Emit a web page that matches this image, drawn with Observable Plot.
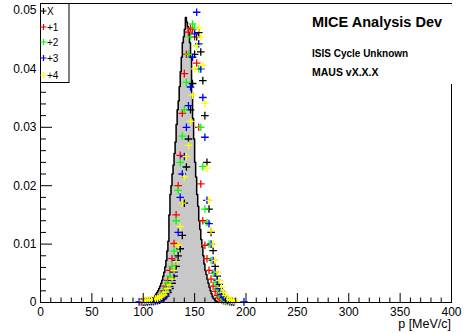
<!DOCTYPE html>
<html><head><meta charset="utf-8">
<script src="https://cdn.jsdelivr.net/npm/d3@7"></script>
<script src="https://cdn.jsdelivr.net/npm/@observablehq/plot@0.6"></script>
<style>
body{margin:0;background:#fff}
#chart{width:465px;height:333px;position:relative}
svg{font-family:"Liberation Sans",Arial,Helvetica,sans-serif}
</style>
</head><body><div id="chart"></div>
<script>
// Histogram (gray) – lower bin edges (1 MeV/c bins) and contents
const histEdges = [99,100,101,102,103,104,105,106,107,108,109,110,111,112,113,114,115,116,117,118,119,120,121,122,123,124,125,126,127,128,129,130,131,132,133,134,135,136,137,138,139,140,141,142,143,144,145,146,147,148,149,150,151,152,153,154,155,156,157,158,159,160,161,162,163,164,165,166,167,168,169,170,171,172,173];
const histValues = [0,0.0002,0.0002,0.0003,0.0003,0.0004,0.0004,0.0005,0.0006,0.0007,0.0008,0.0009,0.0011,0.0014,0.0017,0.0020,0.0024,0.0028,0.0033,0.0038,0.0045,0.0052,0.0061,0.0072,0.0088,0.0105,0.0150,0.0185,0.0200,0.0220,0.0235,0.0255,0.0275,0.0305,0.0330,0.0345,0.0370,0.0395,0.0420,0.0445,0.0455,0.0468,0.0488,0.0480,0.0472,0.0462,0.0445,0.0420,0.0360,0.0315,0.0280,0.0240,0.0215,0.0185,0.0165,0.0140,0.0125,0.0108,0.0095,0.0080,0.0066,0.0055,0.0048,0.0040,0.0033,0.0026,0.0020,0.0015,0.0010,0.0007,0.0005,0.0003,0.0002,0.0001,0];

// Point series (bin positions in MeV/c)
const pBins = [96,98,100,102,104,106,108,110,112,114,116,118,120,122,124,126,128,130,132,134,136,138,140,142,144,146,148,150,152,154,156,158,160,162,164,166,168,170,172,174,176,178,180,182,184,186,188,190,192,194,196,198];
const seriesX = [null,null,null,0.0001,0.0001,0.0002,0.0002,0.0002,0.0003,0.0003,0.0004,0.0006,0.0008,0.0011,0.0017,0.0024,0.0033,0.0045,0.0062,0.0080,0.0092,0.0115,0.0170,0.0232,0.0280,0.0330,0.0375,0.0425,0.0455,0.0462,0.0429,0.0380,0.0320,0.0240,0.0160,0.0120,0.0089,0.0062,0.0045,0.0031,0.0019,0.0011,0.0007,0.0004,0.0003,0.0002,0.0001,null,null,null,null,null];
const series1 = [null,0.0001,0.0001,0.0002,0.0002,0.0002,0.0003,0.0004,0.0005,0.0007,0.0009,0.0014,0.0020,0.0028,0.0038,0.0055,0.0075,0.0101,0.0150,0.0200,0.0252,0.0324,0.0392,0.0425,0.0463,0.0470,0.0468,0.0455,0.0410,0.0300,0.0203,0.0140,0.0098,0.0075,0.0055,0.0040,0.0028,0.0019,0.0012,0.0008,0.0005,0.0003,0.0002,0.0002,0.0001,0.0001,null,null,null,null,null,null];
const series2 = [null,null,0.0001,0.0002,0.0002,0.0003,0.0003,0.0004,0.0005,0.0006,0.0008,0.0012,0.0017,0.0024,0.0033,0.0045,0.0062,0.0088,0.0140,0.0192,0.0240,0.0285,0.0330,0.0377,0.0425,0.0455,0.0477,0.0470,0.0440,0.0400,0.0300,0.0233,0.0160,0.0137,0.0100,0.0072,0.0050,0.0035,0.0023,0.0014,0.0009,0.0005,0.0003,0.0002,0.0002,0.0001,null,null,null,null,null,null];
const series3 = [0.0001,null,0.0001,0.0001,0.0002,0.0002,0.0002,0.0002,0.0003,0.0004,0.0005,0.0007,0.0009,0.0014,0.0020,0.0028,0.0038,0.0052,0.0072,0.0120,0.0180,0.0220,0.0250,0.0300,0.0337,0.0369,0.0420,0.0460,0.0497,0.0443,0.0400,0.0351,0.0283,0.0175,0.0135,0.0100,0.0072,0.0052,0.0038,0.0024,0.0014,0.0009,0.0006,0.0004,0.0003,0.0002,0.0001,null,null,null,null,0.0001];
const series4 = [null,null,0.0003,0.0003,0.0004,0.0004,0.0005,0.0005,0.0006,0.0007,0.0009,0.0011,0.0013,0.0018,0.0024,0.0030,0.0040,0.0055,0.0070,0.0098,0.0130,0.0170,0.0215,0.0250,0.0269,0.0310,0.0355,0.0400,0.0440,0.0470,0.0455,0.0406,0.0341,0.0230,0.0175,0.0123,0.0100,0.0072,0.0052,0.0038,0.0026,0.0018,0.0012,0.0008,0.0005,0.0004,0.0003,0.0002,null,null,null,null];

const seriesNames = ["X","+1","+2","+3","+4"];
const seriesColors = ["#000000","#ff0000","#00ff00","#0000ff","#ffff00"];
const seriesValues = [seriesX, series1, series2, series3, series4];

// Axis ticks
const xMajor = [0,50,100,150,200,250,300,350,400];
const xMinor = [10,20,30,40,60,70,80,90,110,120,130,140,160,170,180,190,210,220,230,240,260,270,280,290,310,320,330,340,360,370,380,390];
const yMajor = [0,0.01,0.02,0.03,0.04,0.05];
const yMinor = [0.002,0.004,0.006,0.008,0.012,0.014,0.016,0.018,0.022,0.024,0.026,0.028,0.032,0.034,0.036,0.038,0.042,0.044,0.046,0.048];

const W = 465, H = 333, mL = 40, mR = 14, mT = 3, mB = 31;
const plotW = W - mL - mR, plotH = H - mT - mB;

const hist = histEdges.map((p,i)=>({p, v: histValues[i]}));
const plus = {draw(ctx, size){ const r = Math.sqrt(size/Math.PI); ctx.moveTo(-r,0); ctx.lineTo(r,0); ctx.moveTo(0,-r); ctx.lineTo(0,r); }};

const pointMarks = seriesValues.map((vals, k) => {
  const data = pBins.map((p,i)=>({p, v: vals[i]})).filter(d => d.v != null);
  return Plot.dot(data, {x:"p", y:"v", symbol: plus, r: 3.8, fill:"none", stroke: seriesColors[k], strokeWidth: 1.3});
});

const chart = Plot.plot({
  width: W, height: H,
  marginLeft: mL, marginRight: mR, marginTop: mT, marginBottom: mB,
  style: {fontFamily: '"Liberation Sans",Arial,Helvetica,sans-serif', fontSize: "12px", background: "#fff"},
  x: {domain: [0, 400]},
  y: {domain: [0, 0.0512]},
  marks: [
    Plot.areaY(hist, {x:"p", y:"v", curve:"step-after", fill:"#c8c8c8"}),
    Plot.lineY(hist, {x:"p", y:"v", curve:"step-after", stroke:"#000", strokeWidth:1.5}),
    ...pointMarks,
    Plot.ruleX(xMajor, {x: d=>d, insetTop: plotH - 9, stroke:"#000"}),
    Plot.ruleX(xMinor, {x: d=>d, insetTop: plotH - 4.5, stroke:"#000"}),
    Plot.ruleY(yMajor, {y: d=>d, insetRight: plotW - 12, stroke:"#000"}),
    Plot.ruleY(yMinor, {y: d=>d, insetRight: plotW - 6, stroke:"#000"}),
    Plot.frame({stroke:"#000"}),
    Plot.axisX(xMajor, {tickSize: 0, tickPadding: 5, label: null, fontSize: 12, tickFormat: d => String(d)}),
    Plot.axisY(yMajor, {tickSize: 0, tickPadding: 4, label: null, fontSize: 12, tickFormat: d => d === 0 ? "0" : d.toFixed(2)})
  ]
});
document.getElementById("chart").appendChild(chart);

const svg = d3.select(chart);
// Info box (white pave)
svg.append("rect").attr("x", 300).attr("y", 4).attr("width", 165).attr("height", 80).attr("fill", "#fff");
const info = svg.append("g").attr("text-anchor", "start").attr("font-weight", "bold").attr("fill", "#000");
info.append("text").attr("x", 312).attr("y", 27).attr("font-size", 14.5).text("MICE Analysis Dev");
info.append("text").attr("x", 312).attr("y", 57).attr("font-size", 10).text("ISIS Cycle Unknown");
info.append("text").attr("x", 312).attr("y", 76).attr("font-size", 10.5).text("MAUS vX.X.X");

// Legend
const lg = svg.append("g").attr("text-anchor", "start");
lg.append("rect").attr("x", 40.5).attr("y", 3.5).attr("width", 28.5).attr("height", 79).attr("fill", "#fff").attr("stroke", "#000");
const rowY = [11, 27, 42, 58, 75];
seriesNames.forEach((name, k) => {
  const y = rowY[k], x = 43.5;
  lg.append("path").attr("d", `M${x-3},${y}H${x+3}M${x},${y-3}V${y+3}`).attr("stroke", seriesColors[k]).attr("stroke-width", 1.2).attr("fill","none");
  lg.append("text").attr("x", 47).attr("y", y + 3.5).attr("font-size", 10).attr("fill", "#000").text(name);
});

// X axis title
svg.append("text").attr("x", 451).attr("y", 328).attr("text-anchor", "end").attr("font-size", 12.5).attr("fill","#000").text("p [MeV/c]");
</script>
</body></html>
